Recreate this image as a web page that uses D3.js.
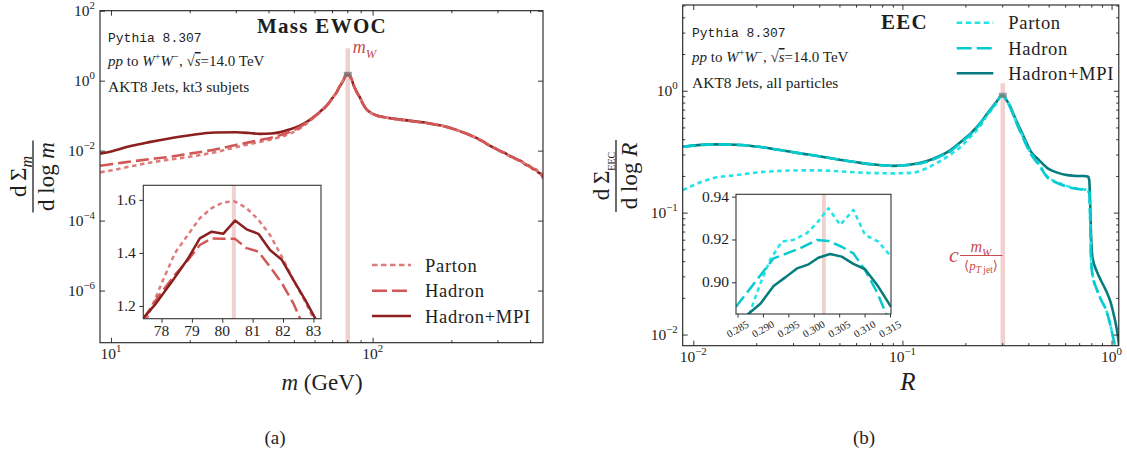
<!DOCTYPE html>
<html><head><meta charset="utf-8">
<script src="https://cdn.jsdelivr.net/npm/d3@7"></script>
<style>body{margin:0;background:#fff}svg{display:block}</style>
</head><body><svg id="c" width="1127" height="455"></svg>
<script>
// ---------------- DATA ----------------
// Panel (a): Mass EWOC, main plot
const massM = [9.1,10,12,14,16.3,20,25,30,34,37,41,44,48,52.7,56,59.3,63,66.7,70,72.8,75,77.2,78.4,79.6,80.4,81.2,82,83,84.3,86.5,89.4,92,94.8,99,103.5,112,123.6,140,165.6,191.8,222,232,240,248,257,266,275,286,297,308,320,332,344,356,370,384,398,410,420,432,440,449];
const massPartonV = [0.0024,0.0027,0.0036,0.0045,0.0054,0.0067,0.0090,0.0125,0.0155,0.0178,0.0210,0.0240,0.0300,0.0430,0.060,0.085,0.125,0.19,0.31,0.47,0.73,1.06,1.40,1.57,1.595,1.525,1.38,1.16,0.82,0.52,0.33,0.212,0.15,0.116,0.100,0.088,0.079,0.070,0.060,0.048,0.0335,0.0300,0.0262,0.0232,0.0206,0.0176,0.0152,0.0130,0.0113,0.0095,0.0087,0.0071,0.0066,0.0055,0.0051,0.0041,0.0037,0.0029,0.0030,0.0023,0.0022,0.0018];
const massHadronV = [0.0037,0.0041,0.0049,0.0057,0.0065,0.0082,0.0108,0.0145,0.0175,0.0200,0.0235,0.0270,0.0340,0.0470,0.064,0.088,0.128,0.19,0.305,0.455,0.69,0.99,1.31,1.45,1.45,1.40,1.28,1.06,0.77,0.50,0.325,0.21,0.15,0.117,0.101,0.088,0.079,0.070,0.059,0.047,0.0330,0.0290,0.0258,0.0236,0.0200,0.0179,0.0148,0.0129,0.0110,0.0097,0.0084,0.0073,0.0063,0.0057,0.0049,0.0041,0.0035,0.0031,0.0028,0.0024,0.0021,0.0016];
const massMpiV = [0.0082,0.0095,0.0138,0.0175,0.0216,0.0275,0.0330,0.0335,0.0318,0.0302,0.0308,0.0333,0.040,0.0518,0.066,0.0894,0.13,0.193,0.31,0.463,0.70,1.0,1.3,1.47,1.52,1.47,1.37,1.15,0.80,0.52,0.333,0.215,0.152,0.118,0.102,0.089,0.080,0.071,0.060,0.048,0.0333,0.0295,0.0260,0.0235,0.0203,0.0178,0.0150,0.0128,0.0112,0.0096,0.0086,0.0072,0.0065,0.0056,0.0050,0.0040,0.0036,0.0030,0.0029,0.0023,0.0022,0.0017];
// Panel (a) inset
const insetPartonM = [77.4,78.05,78.44,78.83,79.26,79.65,80.03,80.42,80.8,81.19,81.57,81.96,82.34,82.73,83.0,83.2];
const insetPartonV = [1.12,1.298,1.399,1.462,1.531,1.569,1.591,1.594,1.569,1.525,1.468,1.386,1.298,1.216,1.153,1.10];
const insetHadronM = [77.4,77.89,78.44,78.88,79.26,79.65,80.03,80.42,80.8,81.19,81.57,81.96,82.34,82.56,82.8];
const insetHadronV = [1.15,1.235,1.317,1.374,1.43,1.455,1.453,1.453,1.418,1.405,1.348,1.286,1.21,1.153,1.09];
const insetMpiM = [77.39,77.78,78.38,78.88,79.26,79.65,80.03,80.42,80.8,81.19,81.57,81.96,82.34,82.73,83.06,83.2];
const insetMpiV = [1.153,1.204,1.298,1.38,1.455,1.48,1.472,1.522,1.489,1.472,1.411,1.374,1.298,1.223,1.153,1.12];
const mW = 80.38;

// Panel (b): EEC main plot
const eecR = [0.0089,0.0125,0.016,0.021,0.026,0.033,0.04,0.05,0.063,0.075,0.091,0.11,0.131,0.15,0.17,0.19,0.212,0.235,0.255,0.28,0.30,0.32,0.355,0.38,0.41,0.45,0.493,0.55,0.615,0.68,0.74,0.77,0.782,0.789,0.797,0.81,0.85,0.888,0.94,0.984,1.03,1.06,1.09];
const eecPartonV = [0.153,0.192,0.203,0.215,0.22,0.222,0.222,0.218,0.213,0.211,0.21,0.212,0.232,0.262,0.30,0.347,0.42,0.51,0.63,0.78,0.925,0.80,0.525,0.405,0.31,0.25,0.198,0.177,0.165,0.158,0.155,0.152,0.147,0.10,0.045,0.032,0.0235,0.0195,0.0160,0.0122,0.0086,0.0068,0.0055];
const eecHadronV = [0.347,0.363,0.36,0.345,0.326,0.305,0.29,0.272,0.256,0.247,0.242,0.247,0.262,0.287,0.32,0.375,0.44,0.535,0.645,0.79,0.918,0.79,0.52,0.40,0.305,0.245,0.195,0.175,0.163,0.157,0.153,0.150,0.145,0.10,0.043,0.031,0.0235,0.0195,0.0160,0.0122,0.0086,0.0068,0.0055];
const eecMpiV = [0.347,0.363,0.36,0.345,0.326,0.305,0.29,0.272,0.256,0.247,0.242,0.248,0.265,0.29,0.326,0.38,0.447,0.54,0.652,0.80,0.915,0.80,0.54,0.42,0.32,0.27,0.232,0.213,0.203,0.200,0.200,0.198,0.186,0.13,0.07,0.043,0.033,0.028,0.023,0.019,0.014,0.011,0.0078];
// Panel (b) inset
const insetEecPartonR = [0.2873,0.2895,0.2914,0.2937,0.296,0.2986,0.3006,0.3029,0.3052,0.3078,0.3101,0.3127,0.3152];
const insetEecPartonV = [0.885,0.8995,0.9104,0.919,0.9198,0.9229,0.9276,0.9346,0.9268,0.9338,0.9221,0.919,0.912];
const insetEecHadronR = [0.2847,0.2888,0.2921,0.2947,0.2973,0.3006,0.3029,0.3055,0.3078,0.3101,0.3124,0.3143];
const insetEecHadronV = [0.8886,0.9011,0.9112,0.9135,0.9159,0.9198,0.9193,0.9166,0.9135,0.9057,0.8956,0.885];
const insetEecMpiR = [0.2865,0.2895,0.2921,0.2944,0.2967,0.299,0.3009,0.3032,0.3055,0.3078,0.3101,0.3127,0.3152];
const insetEecMpiV = [0.884,0.890,0.8983,0.9023,0.9065,0.9084,0.9115,0.9132,0.912,0.9086,0.9061,0.898,0.8886];
const rPeak = 0.302;

// Ticks
const massXMajor = [10,100];
const massXMinor = [20,30,40,50,60,70,80,90,200,300,400];
const massYMajor = [1e-6,1e-4,1e-2,1,100];
const eecXMajor = [0.01,0.1,1];
const eecXMinor = [0.02,0.03,0.04,0.05,0.06,0.07,0.08,0.09,0.2,0.3,0.4,0.5,0.6,0.7,0.8,0.9];
const eecYMajor = [0.01,0.1,1];
const eecYMinor = [0.02,0.03,0.04,0.05,0.06,0.07,0.08,0.09,0.2,0.3,0.4,0.5,0.6,0.7,0.8,0.9,2,3,4,5];
const insetMassXTicks = [78,79,80,81,82,83];
const insetMassYTicks = [1.2,1.4,1.6];
const insetEecXTicks = [0.285,0.290,0.295,0.300,0.305,0.310,0.315];
const insetEecYTicks = [0.90,0.92,0.94];
const seriesNames = ["Parton","Hadron","Hadron+MPI"];

// ---------------- STYLE ----------------
const SERIF = "'Liberation Serif','DejaVu Serif',serif";
const MONO = "'Liberation Mono','DejaVu Sans Mono',monospace";
const INK = "#1e1e1e";
const redCol = {Parton:"#e07b7b", Hadron:"#d25858", "Hadron+MPI":"#8c1f1f"};
const cyanCol = {Parton:"#22e3e6", Hadron:"#05cbd0", "Hadron+MPI":"#067c7c"};
const dash = {Parton:"4.5,3.6", Hadron:"13,5", "Hadron+MPI":null};
const LW = 2.6;
const markCol = "#f1d0d0";
const labelRed = "#c74b4f";

const svg = d3.select("#c");
svg.append("rect").attr("width",1127).attr("height",455).attr("fill","#fff");
const defs = svg.append("defs");

function rich(parent, x, y, parts, size, opts={}) {
  const t = parent.append("text").attr("x",x).attr("y",y)
    .attr("font-family", opts.family||SERIF).attr("font-size",size)
    .attr("fill", opts.fill||INK).attr("text-anchor", opts.anchor||"start");
  if (opts.weight) t.attr("font-weight",opts.weight);
  if (opts.ls) t.attr("letter-spacing",opts.ls);
  if (opts.transform) t.attr("transform",opts.transform);
  let cur = 0;
  for (let p of parts) {
    if (typeof p === "string") p = {t:p};
    const s = t.append("tspan").text(p.t);
    const fs = p.fs ? p.fs : (p.sup||p.sub) ? size*0.7 : size;
    const shift = p.sup ? -size*0.42 : p.sub ? size*0.25 : 0;
    s.attr("dy", shift-cur); cur = shift;
    s.attr("font-size", fs);
    if (p.i) s.attr("font-style","italic");
    if (p.ol) s.attr("text-decoration","overline");
    if (p.fam) s.attr("font-family",p.fam);
  }
  return t;
}
function pow10Parts(v){ const e=Math.round(Math.log10(v)); return ["10",{t:(e<0?"\u2212":"")+Math.abs(e),sup:true}]; }

function clip(id, b){
  defs.append("clipPath").attr("id",id).append("rect")
    .attr("x",b.l).attr("y",b.t).attr("width",b.r-b.l).attr("height",b.b-b.t);
}
function ticksAll(g, x, y, b, xMaj, xMin, yMaj, yMin){
  const mk = (axis, tr) => g.append("g").attr("transform",tr).attr("color",INK).call(axis).call(s=>s.select(".domain").remove());
  const setup = (a, vals, len) => a.tickValues(vals).tickSizeInner(-len).tickSizeOuter(0).tickFormat("");
  mk(setup(d3.axisBottom(x), xMaj, 5), `translate(0,${b.b})`);
  mk(setup(d3.axisTop(x), xMaj, 5), `translate(0,${b.t})`);
  mk(setup(d3.axisLeft(y), yMaj, 5), `translate(${b.l},0)`);
  mk(setup(d3.axisRight(y), yMaj, 5), `translate(${b.r},0)`);
  if (xMin.length){
    mk(setup(d3.axisBottom(x), xMin, 2.6), `translate(0,${b.b})`);
    mk(setup(d3.axisTop(x), xMin, 2.6), `translate(0,${b.t})`);
  }
  if (yMin.length){
    mk(setup(d3.axisLeft(y), yMin, 2.6), `translate(${b.l},0)`);
    mk(setup(d3.axisRight(y), yMin, 2.6), `translate(${b.r},0)`);
  }
  g.selectAll(".tick line").attr("stroke-width",0.9);
}
function frame(g,b,col){
  g.append("rect").attr("x",b.l).attr("y",b.t).attr("width",b.r-b.l).attr("height",b.b-b.t)
    .attr("fill","none").attr("stroke",col||INK).attr("stroke-width",1.1);
}
function drawSeries(g, x, y, xs, vs, color, da, clipId, w){
  const pts = xs.map((d,i)=>[d,vs[i]]);
  const line = d3.line().x(d=>x(d[0])).y(d=>y(d[1])).curve(d3.curveMonotoneX);
  const p = g.append("path").datum(pts).attr("d",line).attr("fill","none")
    .attr("stroke",color).attr("stroke-width",w||LW).attr("clip-path",`url(#${clipId})`)
    .attr("stroke-linejoin","round");
  if (da) p.attr("stroke-dasharray",da);
}
function drawInsetSeries(g, x, y, xs, vs, color, da, clipId){
  const pts = xs.map((d,i)=>[d,vs[i]]);
  const line = d3.line().x(d=>x(d[0])).y(d=>y(d[1]));
  const p = g.append("path").datum(pts).attr("d",line).attr("fill","none")
    .attr("stroke",color).attr("stroke-width",2.5).attr("clip-path",`url(#${clipId})`)
    .attr("stroke-linejoin","round");
  if (da) p.attr("stroke-dasharray",da);
}

// ================= PANEL (a) =================
const A = {l:100, r:543, t:10.7, b:342.7};
const xA = d3.scaleLog().domain([9.08,448]).range([A.l,A.r]);
const yA = d3.scaleLog().domain([Math.pow(10,-7.49),100]).range([A.b,A.t]);
const gA = svg.append("g");
clip("clipA",A);
gA.append("line").attr("x1",xA(mW)).attr("x2",xA(mW)).attr("y1",yA(8.4)).attr("y2",A.b)
  .attr("stroke",markCol).attr("stroke-width",4.5);
drawSeries(gA,xA,yA,massM,massMpiV,redCol["Hadron+MPI"],null,"clipA");
drawSeries(gA,xA,yA,massM,massPartonV,redCol.Parton,dash.Parton,"clipA");
drawSeries(gA,xA,yA,massM,massHadronV,redCol.Hadron,dash.Hadron,"clipA");
gA.append("rect").attr("x",xA(mW)-4).attr("y",yA(1.52)-2.5).attr("width",8).attr("height",5)
  .attr("fill","#777").attr("opacity",0.75);
ticksAll(gA,xA,yA,A,massXMajor,massXMinor,massYMajor,[]);
frame(gA,A);
massXMajor.forEach(v=>rich(gA,xA(v),A.b+16,pow10Parts(v),15.5,{anchor:"middle"}));
massYMajor.forEach(v=>rich(gA,A.l-5,yA(v)+5,pow10Parts(v),15.5,{anchor:"end"}));
rich(gA,xA(mW)+5,53,[{t:"m",i:true},{t:"W",i:true,sub:true}],18,{fill:labelRed});
rich(gA,322,33,["Mass EWOC"],21,{anchor:"middle",weight:"bold",ls:1.3});
rich(gA,108,41.5,["Pythia 8.307"],13,{family:MONO});
rich(gA,108,66,[{t:"pp",i:true}," to ",{t:"W",i:true},{t:"+",sup:true},{t:"W",i:true},{t:"\u2212",sup:true},", \u221A",{t:"s",i:true,ol:true},"=14.0 TeV"],15);
rich(gA,108,92,["AKT8 Jets, kt3 subjets"],15.5);
// legend (a)
const legA = {x1:372, x2:411, tx:425, ys:[265,290.7,316]};
seriesNames.forEach((n,i)=>{
  const l = gA.append("line").attr("x1",legA.x1).attr("x2",legA.x2).attr("y1",legA.ys[i]).attr("y2",legA.ys[i])
    .attr("stroke",redCol[n]).attr("stroke-width",LW);
  if (dash[n]) l.attr("stroke-dasharray",n==="Hadron"?"15,5":"5.5,3.5");
  rich(gA,legA.tx,legA.ys[i]+6.5,[n],18.5,{ls:0.7});
});
// y label (a)
const ylA = gA.append("g").attr("transform","translate(33,176.5) rotate(-90)");
ylA.append("line").attr("x1",-36).attr("x2",36).attr("y1",0).attr("y2",0).attr("stroke",INK).attr("stroke-width",1.3);
rich(ylA,0,-7,["d\u2009\u03A3",{t:"m",i:true,sub:true}],23,{anchor:"middle"});
rich(ylA,0,21,["d log ",{t:"m",i:true}],23,{anchor:"middle"});
rich(gA,322,390,[{t:"m",i:true}," (GeV)"],23,{anchor:"middle"});
rich(gA,275,444,["(a)"],19,{anchor:"middle"});

// inset (a)
const IA = {l:143.3, r:321, t:185.3, b:318.7};
const xIA = d3.scaleLinear().domain([77.4,83.25]).range([IA.l,IA.r]);
const yIA = d3.scaleLinear().domain([1.152,1.655]).range([IA.b,IA.t]);
const gIA = svg.append("g");
clip("clipIA",IA);
gIA.append("rect").attr("x",IA.l).attr("y",IA.t).attr("width",IA.r-IA.l).attr("height",IA.b-IA.t).attr("fill","#fff");
gIA.append("line").attr("x1",xIA(mW)).attr("x2",xIA(mW)).attr("y1",IA.t).attr("y2",IA.b)
  .attr("stroke",markCol).attr("stroke-width",4);
drawInsetSeries(gIA,xIA,yIA,insetPartonM,insetPartonV,redCol.Parton,dash.Parton,"clipIA");
drawInsetSeries(gIA,xIA,yIA,insetHadronM,insetHadronV,redCol.Hadron,dash.Hadron,"clipIA");
drawInsetSeries(gIA,xIA,yIA,insetMpiM,insetMpiV,redCol["Hadron+MPI"],null,"clipIA");
gIA.append("g").attr("transform",`translate(0,${IA.b})`).attr("color","#333")
  .call(d3.axisBottom(xIA).tickValues(insetMassXTicks).tickSizeInner(4).tickSizeOuter(0).tickFormat(""))
  .call(s=>s.select(".domain").remove());
gIA.append("g").attr("transform",`translate(${IA.l},0)`).attr("color","#333")
  .call(d3.axisLeft(yIA).tickValues(insetMassYTicks).tickSizeInner(4).tickSizeOuter(0).tickFormat(""))
  .call(s=>s.select(".domain").remove());
frame(gIA,IA,"#333");
insetMassXTicks.forEach(v=>rich(gIA,xIA(v),IA.b+17.5,[String(v)],15.5,{anchor:"middle"}));
insetMassYTicks.forEach(v=>rich(gIA,IA.l-7.5,yIA(v)+5,[v.toFixed(1)],15.5,{anchor:"end"}));

// ================= PANEL (b) =================
const B = {l:682.7, r:1118.8, t:5, b:345.7};
const xB = d3.scaleLog().domain([0.0089,1.083]).range([B.l,B.r]);
const yB = d3.scaleLog().domain([0.0081,5.05]).range([B.b,B.t]);
const gB = svg.append("g");
clip("clipB",B);
gB.append("line").attr("x1",xB(rPeak)).attr("x2",xB(rPeak)).attr("y1",yB(1.15)).attr("y2",B.b)
  .attr("stroke",markCol).attr("stroke-width",4.5);
drawSeries(gB,xB,yB,eecR,eecMpiV,cyanCol["Hadron+MPI"],null,"clipB");
drawSeries(gB,xB,yB,eecR,eecPartonV,cyanCol.Parton,dash.Parton,"clipB");
drawSeries(gB,xB,yB,eecR,eecHadronV,cyanCol.Hadron,dash.Hadron,"clipB");
gB.append("rect").attr("x",xB(rPeak)-4).attr("y",yB(0.918)-2.5).attr("width",8).attr("height",5)
  .attr("fill","#777").attr("opacity",0.7);
ticksAll(gB,xB,yB,B,eecXMajor,eecXMinor,eecYMajor,eecYMinor);
frame(gB,B);
eecXMajor.forEach(v=>rich(gB,xB(v),B.b+16,pow10Parts(v),15.5,{anchor:"middle"}));
eecYMajor.forEach(v=>rich(gB,B.l-5,yB(v)+5,pow10Parts(v),15.5,{anchor:"end"}));
rich(gB,904.5,28.5,["EEC"],21,{anchor:"middle",weight:"bold",ls:1.3});
rich(gB,692,36.5,["Pythia 8.307"],13,{family:MONO});
rich(gB,692,62,[{t:"pp",i:true}," to ",{t:"W",i:true},{t:"+",sup:true},{t:"W",i:true},{t:"\u2212",sup:true},", \u221A",{t:"s",i:true,ol:true},"=14.0 TeV"],15);
rich(gB,692,88,["AKT8 Jets, all particles"],15.5);
// c mW/<pT jet> label
rich(gB,954,262,[{t:"c",i:true}],22,{fill:labelRed,anchor:"middle"});
rich(gB,981,251.5,[{t:"m",i:true},{t:"W",i:true,sub:true}],16,{fill:labelRed,anchor:"middle"});
gB.append("line").attr("x1",960).attr("x2",1002.5).attr("y1",255.5).attr("y2",255.5).attr("stroke",labelRed).attr("stroke-width",1);
rich(gB,981,269.5,["\u27E8",{t:"p",i:true},{t:"T",i:true,sub:true,fs:9.5},{t:" jet",sub:true,fs:9.5},{t:"\u27E9",fs:13}],13,{fill:labelRed,anchor:"middle"});
// legend (b)
const legB = {x1:956.7, x2:993.3, tx:1008.3, ys:[22.7,48.3,73.3]};
seriesNames.forEach((n,i)=>{
  const l = gB.append("line").attr("x1",legB.x1).attr("x2",legB.x2).attr("y1",legB.ys[i]).attr("y2",legB.ys[i])
    .attr("stroke",cyanCol[n]).attr("stroke-width",LW);
  if (dash[n]) l.attr("stroke-dasharray",n==="Hadron"?"15,5":"5.5,3.5");
  rich(gB,legB.tx,legB.ys[i]+6.5,[n],18.5,{ls:0.7});
});
// y label (b)
const ylB = gB.append("g").attr("transform","translate(616,176) rotate(-90)");
ylB.append("line").attr("x1",-36).attr("x2",36).attr("y1",0).attr("y2",0).attr("stroke",INK).attr("stroke-width",1.3);
rich(ylB,0,-7,["d\u2009\u03A3",{t:"EEC",sub:true,fs:10}],23,{anchor:"middle"});
rich(ylB,0,21,["d log ",{t:"R",i:true}],23,{anchor:"middle"});
rich(gB,908,390,[{t:"R",i:true}],25,{anchor:"middle"});
rich(gB,864,444,["(b)"],19,{anchor:"middle"});

// inset (b)
const IB = {l:736, r:891, t:194.3, b:314};
const xIB = d3.scaleLinear().domain([0.2847,0.3152]).range([IB.l,IB.r]);
const yIB = d3.scaleLinear().domain([0.8852,0.9411]).range([IB.b,IB.t]);
const gIB = svg.append("g");
clip("clipIB",IB);
gIB.append("rect").attr("x",IB.l).attr("y",IB.t).attr("width",IB.r-IB.l).attr("height",IB.b-IB.t).attr("fill","#fff");
gIB.append("line").attr("x1",xIB(rPeak)).attr("x2",xIB(rPeak)).attr("y1",IB.t).attr("y2",IB.b)
  .attr("stroke",markCol).attr("stroke-width",3.8);
drawInsetSeries(gIB,xIB,yIB,insetEecPartonR,insetEecPartonV,cyanCol.Parton,dash.Parton,"clipIB");
drawInsetSeries(gIB,xIB,yIB,insetEecHadronR,insetEecHadronV,cyanCol.Hadron,dash.Hadron,"clipIB");
drawInsetSeries(gIB,xIB,yIB,insetEecMpiR,insetEecMpiV,cyanCol["Hadron+MPI"],null,"clipIB");
gIB.append("g").attr("transform",`translate(0,${IB.b})`).attr("color","#333")
  .call(d3.axisBottom(xIB).tickValues(insetEecXTicks).tickSizeInner(3.5).tickSizeOuter(0).tickFormat(""))
  .call(s=>s.select(".domain").remove());
gIB.append("g").attr("transform",`translate(${IB.l},0)`).attr("color","#333")
  .call(d3.axisLeft(yIB).tickValues(insetEecYTicks).tickSizeInner(4).tickSizeOuter(0).tickFormat(""))
  .call(s=>s.select(".domain").remove());
frame(gIB,IB,"#333");
insetEecXTicks.forEach(v=>{
  const cx = xIB(v), cy = IB.b+15;
  gIB.append("text").attr("transform",`translate(${cx},${cy}) rotate(-30)`)
    .attr("text-anchor","middle").attr("dy","0.35em").attr("font-family",SERIF)
    .attr("font-size",10.5).attr("fill",INK).text(v.toFixed(3));
});
insetEecYTicks.forEach(v=>rich(gIB,IB.l-7,yIB(v)+5,[v.toFixed(2)],15.5,{anchor:"end"}));
</script></body></html>
